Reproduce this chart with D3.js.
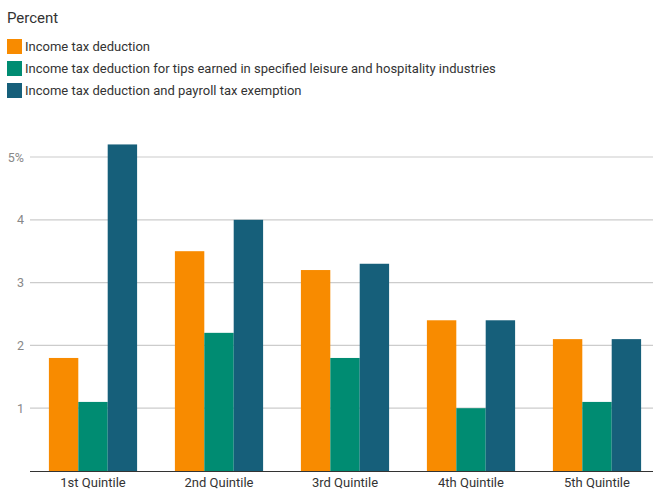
<!DOCTYPE html>
<html><head><meta charset="utf-8">
<script src="https://cdn.jsdelivr.net/npm/d3@7"></script>
<style>body{margin:0;background:#fff;}svg{display:block;font-family:Roboto,sans-serif;}</style>
</head><body><svg id="c" width="653" height="489"></svg>
<script>
const categories = ["1st Quintile","2nd Quintile","3rd Quintile","4th Quintile","5th Quintile"];
const seriesNames = ["Income tax deduction","Income tax deduction for tips earned in specified leisure and hospitality industries","Income tax deduction and payroll tax exemption"];
const incomeTax = [1.8,3.5,3.2,2.4,2.1];
const tipsLeisure = [1.1,2.2,1.8,1.0,1.1];
const payrollExempt = [5.2,4.0,3.3,2.4,2.1];
const tickValues = [1,2,3,4,5];
const tickLabels = ["1","2","3","4","5%"];
const colors = ["#f88b00","#008c72","#165f7a"];
const series = [incomeTax, tipsLeisure, payrollExempt];

const svg = d3.select("#c");
const x0 = d3.scaleBand().domain(categories).range([30,660]).paddingInner(0.3).paddingOuter(0.15);
const x1 = d3.scaleBand().domain(d3.range(series.length)).range([0,x0.bandwidth()]);
const y = d3.scaleLinear().domain([0,5]).range([471,157]);

svg.append("text").attr("x",7).attr("y",23).attr("font-size",15).attr("fill","#333").text("Percent");
seriesNames.forEach((n,i)=>{
  const g = svg.append("g").attr("transform",`translate(7,${39+i*22})`);
  g.append("rect").attr("width",15).attr("height",15).attr("fill",colors[i]);
  g.append("text").attr("x",18).attr("y",12).attr("font-size",13).attr("fill","#333").text(n);
});
const yAxis = d3.axisLeft(y).tickValues(tickValues).tickFormat((d,i)=>tickLabels[i]).tickSize(0).tickPadding(6);
const ga = svg.append("g").attr("transform","translate(30,0)").call(yAxis);
ga.select(".domain").remove();
ga.selectAll("text").attr("font-size",12.5).attr("fill","#888").attr("font-family","Roboto,sans-serif");
svg.append("g").selectAll("line").data(tickValues).join("line")
  .attr("x1",30).attr("x2",653).attr("y1",d=>y(d)).attr("y2",d=>y(d))
  .attr("stroke","#cccccc").attr("stroke-width",1.2);
const gg = svg.append("g").selectAll("g").data(categories).join("g")
  .attr("transform",d=>`translate(${x0(d)},0)`);
gg.selectAll("rect").data((d,ci)=>series.map((s,si)=>({si,v:s[ci]}))).join("rect")
  .attr("x",d=>x1(d.si)).attr("width",x1.bandwidth())
  .attr("y",d=>y(d.v)).attr("height",d=>y(0)-y(d.v)).attr("fill",d=>colors[d.si]);
const xAxis = d3.axisBottom(x0).tickSize(0).tickPadding(7);
const gx = svg.append("g").attr("transform","translate(0,471)").call(xAxis);
gx.select(".domain").remove();
gx.selectAll("text").attr("font-size",13).attr("fill","#333").attr("font-family","Roboto,sans-serif");
svg.append("line").attr("x1",30).attr("x2",653).attr("y1",471.5).attr("y2",471.5).attr("stroke","#333").attr("stroke-width",1.2);
</script></body></html>
